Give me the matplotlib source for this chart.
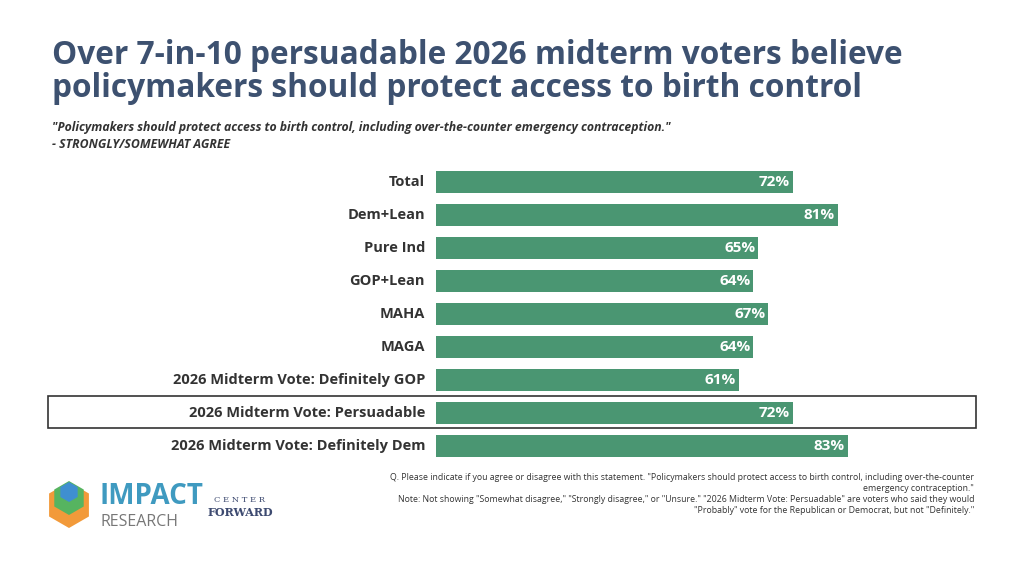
import matplotlib.pyplot as plt
from matplotlib.patches import Rectangle, RegularPolygon

labels = ['Total', 'Dem+Lean', 'Pure Ind', 'GOP+Lean', 'MAHA', 'MAGA',
          '2026 Midterm Vote: Definitely GOP', '2026 Midterm Vote: Persuadable',
          '2026 Midterm Vote: Definitely Dem']
values = [72, 81, 65, 64, 67, 64, 61, 72, 83]

W, H = 1024, 576
fig = plt.figure(figsize=(10.24, 5.76), dpi=100)
fig.patch.set_facecolor('white')
plt.rcParams['font.family'] = ['Open Sans', 'DejaVu Sans']

ax = fig.add_axes([436 / W, 1 - 462.5 / H, 496 / W, 297 / H])
y = range(len(labels))
ax.barh(y, values, height=0.68, color='#4a9672')
ax.set_xlim(0, 100)
ax.set_ylim(len(labels) - 0.5, -0.5)
for s in ax.spines.values():
    s.set_visible(False)
ax.set_xticks([])
ax.set_yticks([])
for i, (lab, v) in enumerate(zip(labels, values)):
    ax.text(v - 0.6, i, f'{v}%', ha='right', va='center', color='white',
            fontsize=11, fontweight='bold')
    ax.text(-2.2, i, lab, ha='right', va='center', color='#333333',
            fontsize=10.5, fontweight='bold')

# highlight box around persuadable row
fig.add_artist(Rectangle((48 / W, 1 - 428 / H), 928 / W, 32 / H, transform=fig.transFigure,
                         fill=False, edgecolor='#333333', linewidth=1.2))

fig.text(52 / W, 1 - 72 / H, 'Over 7-in-10 persuadable 2026 midterm voters believe\n'
         'policymakers should protect access to birth control',
         fontsize=22.8, fontweight='bold', color='#3d5170', va='center', linespacing=1.0)
fig.text(52 / W, 1 - 128 / H, '"Policymakers should protect access to birth control, including over-the-counter emergency contraception."',
         fontsize=8.8, fontstyle='italic', fontweight='bold', color='#333333', va='center')
fig.text(52 / W, 1 - 144 / H, '- STRONGLY/SOMEWHAT AGREE',
         fontsize=8.8, fontstyle='italic', fontweight='bold', color='#333333', va='center')

fig.text(974 / W, 1 - 494 / H,
         'Q. Please indicate if you agree or disagree with this statement. "Policymakers should protect access to birth control, including over-the-counter\n'
         'emergency contraception."\n'
         'Note: Not showing "Somewhat disagree," "Strongly disagree," or "Unsure." "2026 Midterm Vote: Persuadable" are voters who said they would\n'
         '"Probably" vote for the Republican or Democrat, but not "Definitely."',
         fontsize=6.3, ha='right', va='center', color='#333333', multialignment='right', linespacing=1.3)

# logo (inch coordinates so hexagons stay regular)
tr = fig.dpi_scale_trans
cx, cy = 0.69, (H - 505) / 100
fig.add_artist(RegularPolygon((cx, cy), 6, radius=0.23, transform=tr, facecolor='#f29a3a', edgecolor='none'))
fig.add_artist(RegularPolygon((cx, cy + 0.07), 6, radius=0.17, transform=tr, facecolor='#56b460', edgecolor='none'))
fig.add_artist(RegularPolygon((cx, cy + 0.13), 6, radius=0.1, transform=tr, facecolor='#3f8fd0', edgecolor='none'))
fig.text(100 / W, 1 - 496 / H, 'IMPACT', fontsize=20, fontweight='bold', color='#3f9ac0', va='center')
fig.text(100 / W, 1 - 522 / H, 'RESEARCH', fontsize=11.5, color='#777777', va='center')
fig.text(240 / W, 1 - 500 / H, 'C E N T E R', fontsize=6, family='DejaVu Serif', color='#3d4a70', ha='center', va='center')
fig.text(240 / W, 1 - 512 / H, 'FORWARD', fontsize=8, fontweight='bold', family='DejaVu Serif', color='#3d4a70', ha='center', va='center')

fig.savefig('out.png', dpi=100)
